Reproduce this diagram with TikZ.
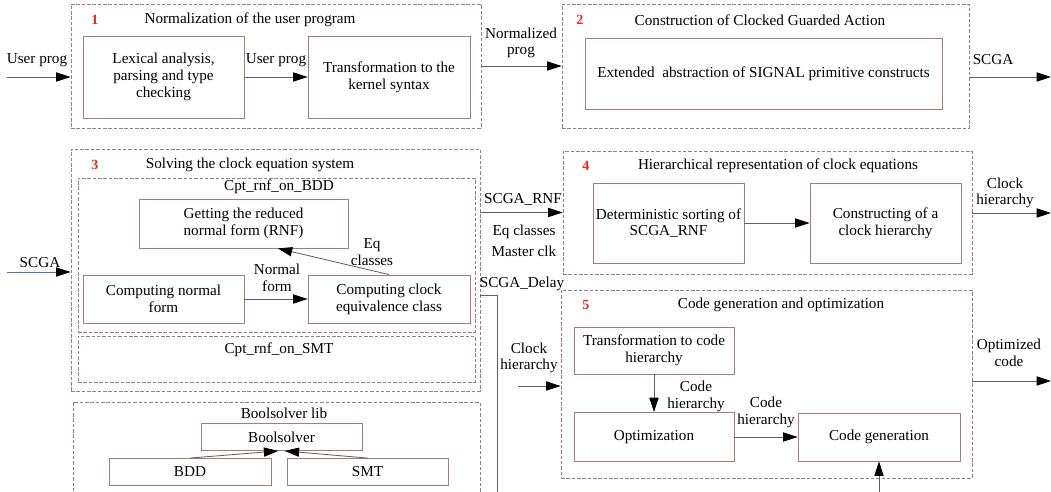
\documentclass[tikz,border=0pt]{standalone}
\usepackage{fontspec}
\setmainfont{Liberation Serif}
\usetikzlibrary{arrows.meta}
\definecolor{grpline}{RGB}{150,128,125}
\definecolor{boxline}{RGB}{165,125,115}
\definecolor{conline}{RGB}{95,95,95}
\definecolor{numred}{RGB}{230,45,30}
\definecolor{scgablue}{RGB}{70,120,170}
\tikzset{>={Triangle[length=3.6mm,width=2.3mm,color=black]}}
\tikzset{
  sz/.style 2 args={minimum width=#1*0.025cm, minimum height=#2*0.025cm},
  grp/.style={draw=grpline, dash pattern=on 2.5pt off 1.3pt, line width=0.6pt},
  blk/.style={draw=boxline, line width=0.6pt, align=center, inner sep=1pt},
  lbl/.style={align=center, inner sep=0pt},
  num/.style={text=numred, font=\bfseries, inner sep=0pt},
  con/.style={->, draw=conline, line width=0.6pt}
}

\begin{document}
\begin{tikzpicture}[x=0.025cm, y=-0.025cm, font=\fontsize{10.8}{11.9}\selectfont]
    \useasboundingbox (0,0) rectangle (1051,492);
    \clip (0,0) rectangle (1051,492);
    % step 1
    \node[grp, sz={410}{124}] (g1) at (276,66) {};
    \node[num] (n1) at (95,20) {1};
    \node[lbl] (t1) at (250,20) {Normalization of the user program};
    \node[blk, sz={161}{82}] (lex) at (163.5,77) {Lexical analysis,\\parsing and type\\checking};
    \node[blk, sz={162}{82}] (kern) at (389,77) {Transformation to the\\kernel syntax};
    % step 2
    \node[grp, sz={407}{124}] (g2) at (765.5,66) {};
    \node[num] (n2) at (580,20) {2};
    \node[lbl] (t2) at (760,20) {Construction of Clocked Guarded Action};
    \node[blk, sz={357}{71}] (ext) at (763.5,73.5) {Extended~ abstraction of SIGNAL primitive constructs};
    % step 3
    \node[grp, sz={409}{242}] (g3) at (275.5,270) {};
    \node[num] (n3) at (95,165) {3};
    \node[lbl] (t3) at (250,165) {Solving the clock equation system};
    \node[grp, sz={397}{154}] (bddpart) at (276.5,255) {};
    \node[lbl] (tb) at (279,187) {Cpt\_rnf\_on\_BDD};
    \node[grp, sz={397}{46}] (smtpart) at (276.5,359) {};
    \node[lbl] (ts) at (279,350) {Cpt\_rnf\_on\_SMT};
    \node[blk, sz={209}{49}] (rnf) at (243.5,223.5) {Getting the reduced\\normal form (RNF)};
    \node[blk, sz={161}{48}] (cnf) at (163.5,299) {Computing normal\\form};
    \node[blk, sz={162}{48}] (ceq) at (389,299) {Computing clock\\equivalence class};
    % boolsolver lib
    \node[grp, sz={407}{110}] (glib) at (276.5,457) {};
    \node[lbl] (tl) at (284,413) {Boolsolver lib};
    \node[blk, sz={161}{27}] (bsolv) at (281.5,437) {Boolsolver};
    \node[blk, sz={162}{27}] (bdd) at (190,472) {BDD};
    \node[blk, sz={161}{27}] (smt) at (367.5,472) {SMT};
    % step 4
    \node[grp, sz={409}{123}] (g4) at (767.5,212.5) {};
    \node[num] (n4) at (586,166) {4};
    \node[lbl] (t4) at (778,166) {Hierarchical representation of clock equations};
    \node[blk, sz={151}{80}] (sort) at (668.5,223) {Deterministic sorting of\\SCGA\_RNF};
    \node[blk, sz={151}{80}] (hier) at (885.5,223) {Constructing of a\\clock hierarchy};
    % step 5
    \node[grp, sz={411}{188}] (g5) at (766.5,384) {};
    \node[num] (n5) at (586,305) {5};
    \node[lbl] (t5) at (781,305) {Code generation and optimization};
    \node[blk, sz={160}{47}] (tch) at (654,350.5) {Transformation to code\\hierarchy};
    \node[blk, sz={160}{49}] (opt) at (654,437) {Optimization};
    \node[blk, sz={162}{48}] (gen) at (879,437) {Code generation};
    % free ends
    \coordinate (upin) at (7,77);
    \coordinate (scgaout) at (1051,77);
    \coordinate (scgain) at (7,272);
    \coordinate (dly) at (497,295);
    \coordinate (chout) at (1051,213);
    \coordinate (chin) at (518,386);
    \coordinate (ocout) at (1051,381);
    \coordinate (genin) at (879,500);
    % connectors
    \draw[con] (upin) -- (upin -| g1.west);
    \draw[con] (lex) -- (kern);
    \draw[con] (g1.east) -- (g2.west);
    \draw[con] (g2.east |- scgaout) -- (scgaout);
    \draw[con, draw=scgablue] (scgain) -- (scgain -| g3.west);
    \draw[con] (cnf) -- (ceq);
    \draw[con] (ceq.north) -- (rnf.-36);
    \draw[con] (g3.east |- g4.west) -- (g4.west);
    \draw[con, -] (g3.east |- dly) -- (dly) -- ++(0,210);
    \draw[con] (sort) -- (hier);
    \draw[con] (g4.east |- chout) -- (chout);
    \draw[con] (chin) -- (chin -| g5.west);
    \draw[con] (tch) -- (opt);
    \draw[con] (opt) -- (gen);
    \draw[con] (g5.east |- ocout) -- (ocout);
    \draw[con] (genin) -- (gen.south);
    \draw[con] (bdd.north) -- ([xshift=-0.08cm]bsolv.south);
    \draw[con] (smt.north) -- ([xshift=0.08cm]bsolv.south);
    % labels
    \node[lbl] (l1) at (37,60) {User prog};
    \node[lbl] (l2) at (276,60) {User prog};
    \node[lbl] (l3) at (521,43) {Normalized\\prog};
    \node[lbl] (l4) at (993,60) {SCGA};
    \node[lbl] (l5) at (40,263) {SCGA};
    \node[lbl] (l6) at (277,278) {Normal\\form};
    \node[lbl] (l7) at (372,252) {Eq\\classes};
    \node[lbl] (l8) at (523,199) {SCGA\_RNF};
    \node[lbl] (l9) at (524,241) {Eq classes\\[3pt]Master clk};
    \node[lbl] (l10) at (522,284) {SCGA\_Delay};
    \node[lbl] (l11) at (1005,193) {Clock\\hierarchy};
    \node[lbl] (l12) at (529,358) {Clock\\hierarchy};
    \node[lbl] (l13) at (1009,353) {Optimized\\code};
    \node[lbl] (l14) at (696,396) {Code\\hierarchy};
    \node[lbl] (l15) at (766,412) {Code\\hierarchy};
\end{tikzpicture}
\end{document}
